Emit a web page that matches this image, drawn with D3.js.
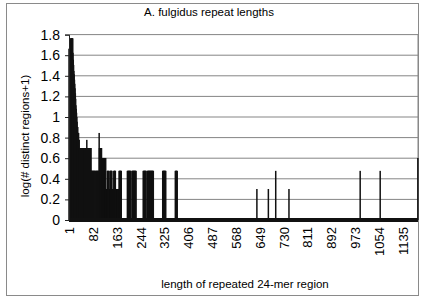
<!DOCTYPE html>
<html>
<head>
<meta charset="utf-8">
<script src="https://cdn.jsdelivr.net/npm/d3@7"></script>
<style>
  body { margin: 0; background: #fff; }
  svg text { font-family: "Liberation Sans", Arial, sans-serif; fill: #000; }
</style>
</head>
<body>
<div id="chart"></div>
<script>
// repeat lengths run 1 .. maxLength on a category axis
const maxLength = 1186;

// distinct-region counts for lengths 1, 2, 3, ... (consecutive)
const headCounts = [
  45, 45, 45, 45, 45,
  57, 57, 57, 57, 57, 57, 57, 57,
  41, 35, 31, 27, 25, 22, 20, 18, 16, 14,
  12, 11, 10, 9, 8,
  7, 7, 6, 6, 6,
  5, 5, 4, 4,
  4, 4, 4, 4, 4, 4, 4, 4, 4, 4, 4, 4, 4, 4, 4, 4, 4, 4, 4, 4, 4, 4, 4,
  5,
  4, 4, 4, 4, 4, 4, 4, 4, 4, 4, 4, 4, 4, 4,
  2, 2, 2, 2, 2, 2, 2, 2, 2, 2, 2, 2, 2, 2, 2,
  0,
  2, 2, 2, 2, 2, 2, 2, 2, 2, 2, 2,
  6,
  4, 4, 4, 4, 4, 4, 4, 4,
  3, 3, 3, 3, 3,
  3, 3, 3, 3, 3, 3, 3, 3, 3,
  1, 1, 1, 1, 1,
  2, 2, 2, 2, 2,
  1, 0, 1, 1,
  2, 2, 2, 2, 2, 2, 2,
  1, 1, 0, 1, 1, 1,
  2, 2, 2, 2, 2, 2,
  1, 1, 1, 0, 1, 1, 1, 1, 0, 1, 1, 1,
  2, 2, 2, 2, 2, 2, 2, 2
];

// longer repeats, listed one by one
const tailLengths = [
  199, 200, 201, 202, 203, 204, 205, 206, 207, 208, 209, 210,
  215, 216, 217, 218, 219, 220, 221, 222, 223, 224, 225, 226, 227, 228,
  253, 254, 255, 256, 257, 258, 259, 260, 261, 262,
  267, 268, 269, 270, 271, 272, 273, 274, 275, 276, 277, 278, 279, 280, 281, 282, 283, 284, 285, 286, 287,
  319, 320, 321, 322, 323, 324, 325, 326, 327, 328, 329,
  362, 363, 364, 365, 366, 367, 368,
  639, 678, 703, 748, 990, 1058, 1186
];
const tailCounts = [
  2, 2, 2, 2, 2, 2, 2, 2, 2, 2, 2, 2,
  2, 2, 2, 2, 2, 2, 2, 2, 2, 2, 2, 2, 2, 2,
  2, 2, 2, 2, 2, 2, 2, 2, 2, 2,
  2, 2, 2, 2, 2, 2, 2, 2, 2, 2, 2, 2, 2, 2, 2, 2, 2, 2, 2, 2, 2,
  2, 2, 2, 2, 2, 2, 2, 2, 2, 2, 2,
  2, 2, 2, 2, 2, 2, 2,
  1, 1, 2, 1, 2, 2, 3
];

const xTickLabels = [1, 82, 163, 244, 325, 406, 487, 568, 649, 730, 811, 892, 973, 1054, 1135];
const yTicks = [0, 0.2, 0.4, 0.6, 0.8, 1, 1.2, 1.4, 1.6, 1.8];

const width = 422, height = 299;
const margin = { top: 34.6, right: 4, bottom: 79, left: 69 };

const bars = headCounts.map((c, i) => ({ length: i + 1, count: c }))
  .concat(tailLengths.map((l, i) => ({ length: l, count: tailCounts[i] })))
  .filter(d => d.count > 0);

const svg = d3.select("#chart").append("svg")
  .attr("width", width)
  .attr("height", height);

// outer chart frame
svg.append("rect")
  .attr("x", 6.5).attr("y", 3.5)
  .attr("width", 412).attr("height", 292)
  .attr("fill", "none")
  .attr("stroke", "#8a8a8a");

const x = d3.scaleBand()
  .domain(d3.range(1, maxLength + 1))
  .range([margin.left, width - margin.right])
  .padding(0);

const y = d3.scaleLinear()
  .domain([0, 1.8])
  .range([height - margin.bottom, margin.top]);

// gridlines
svg.append("g")
  .selectAll("line")
  .data(yTicks.filter(d => d > 0))
  .join("line")
  .attr("x1", margin.left).attr("x2", width - margin.right)
  .attr("y1", d => y(d)).attr("y2", d => y(d))
  .attr("stroke", "#858585")
  .attr("stroke-width", 1);

// right edge of plot area
svg.append("line")
  .attr("x1", width - margin.right).attr("x2", width - margin.right)
  .attr("y1", y(1.8)).attr("y2", y(0))
  .attr("stroke", "#858585");

// bars (each drawn at least ~1.5px wide like the bordered Excel columns)
const bw = x.bandwidth();
svg.append("g")
  .selectAll("rect")
  .data(bars)
  .join("rect")
  .attr("x", d => x(d.length) + bw / 2 - (bw + 1.2) / 2)
  .attr("width", bw + 1.2)
  .attr("y", d => y(Math.log10(d.count + 1)))
  .attr("height", d => y(0) - y(Math.log10(d.count + 1)))
  .attr("fill", "#111");

// thick baseline
svg.append("rect")
  .attr("x", margin.left)
  .attr("y", y(0) - 2)
  .attr("width", width - margin.right - margin.left)
  .attr("height", 4)
  .attr("fill", "#111");

// y axis
const yAxis = svg.append("g")
  .attr("transform", `translate(${margin.left},0)`)
  .call(d3.axisLeft(y).tickValues(yTicks).tickFormat(d => String(d)).tickSize(4).tickPadding(5));
yAxis.select(".domain").attr("stroke", "#222");
yAxis.selectAll(".tick line").attr("stroke", "#222");
yAxis.selectAll("text")
  .style("font-size", "14px")
  .attr("fill", "#000");

// x axis labels (rotated)
const xAxis = svg.append("g")
  .attr("transform", `translate(0,${y(0)})`)
  .call(d3.axisBottom(x).tickValues(xTickLabels).tickSize(0));
xAxis.select(".domain").remove();
xAxis.selectAll("text")
  .attr("transform", "rotate(-90)")
  .attr("text-anchor", "end")
  .attr("x", -7)
  .attr("y", 0)
  .attr("dy", "0.35em")
  .style("font-size", "13px")
  .attr("fill", "#000");

// titles
svg.append("text")
  .attr("x", 209).attr("y", 16)
  .attr("text-anchor", "middle")
  .style("font-size", "11.5px")
  .text("A. fulgidus repeat lengths");

svg.append("text")
  .attr("x", 245).attr("y", 288)
  .attr("text-anchor", "middle")
  .style("font-size", "11.5px")
  .text("length of repeated 24-mer region");

svg.append("text")
  .attr("transform", "translate(29,136) rotate(-90)")
  .attr("text-anchor", "middle")
  .style("font-size", "11.5px")
  .text("log(# distinct regions+1)");
</script>
</body>
</html>
